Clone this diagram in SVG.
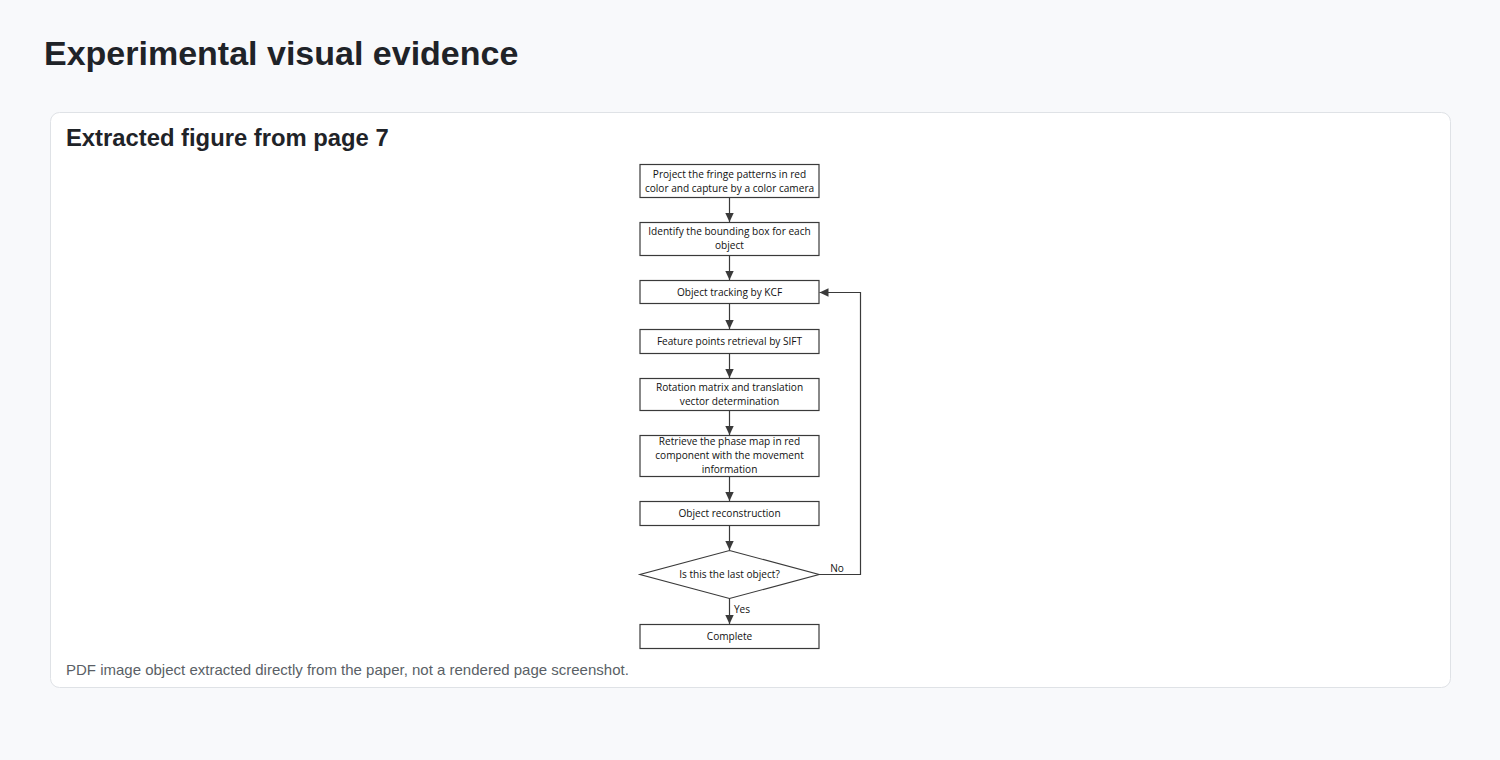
<svg xmlns="http://www.w3.org/2000/svg" width="1500" height="760" viewBox="0 0 1500 760">
<style>
.h1{font-family:"Liberation Sans",Arial,sans-serif;font-weight:bold;font-size:34px;fill:#1f2328}
.h2{font-family:"Liberation Sans",Arial,sans-serif;font-weight:bold;font-size:23.8px;fill:#1f2328}
.cap{font-family:"Liberation Sans",Arial,sans-serif;font-size:15px;fill:#5a5f66}
.box{fill:#fff;stroke:#3a3a3a;stroke-width:1.2}
.t{font-family:"Open Sans","Liberation Sans",sans-serif;font-size:10.1px;fill:#111;text-anchor:middle}
.c{fill:none;stroke:#3a3a3a;stroke-width:1.2}
</style>
<defs>
<marker id="ah" markerWidth="10" markerHeight="10" refX="9" refY="5" orient="auto" markerUnits="userSpaceOnUse">
<path d="M0,0.8 L9,5 L0,9.2 Z" fill="#3a3a3a"/>
</marker>
</defs>
<rect width="1500" height="760" fill="#f8f9fb"/>
<text class="h1" x="44" y="65">Experimental visual evidence</text>
<rect x="50.5" y="112.5" width="1400" height="575" rx="9" fill="#fff" stroke="#dfe2e6"/>
<text class="h2" x="66" y="146">Extracted figure from page 7</text>
<text class="cap" x="66" y="675">PDF image object extracted directly from the paper, not a rendered page screenshot.</text>

<g id="n1"><rect class="box" x="640" y="164.5" width="179" height="33"/><text class="t" x="729.5" y="177.5">Project the fringe patterns in red</text><text class="t" x="729.5" y="191.5">color and capture by a color camera</text></g>
<g id="n2"><rect class="box" x="640" y="222.5" width="179" height="33"/><text class="t" x="729.5" y="235">Identify the bounding box for each</text><text class="t" x="729.5" y="249">object</text></g>
<g id="n3"><rect class="box" x="640" y="280.5" width="179" height="23"/><text class="t" x="729.5" y="295.5">Object tracking by KCF</text></g>
<g id="n4"><rect class="box" x="640" y="329.5" width="179" height="24"/><text class="t" x="729.5" y="344.5">Feature points retrieval by SIFT</text></g>
<g id="n5"><rect class="box" x="640" y="378.5" width="179" height="32"/><text class="t" x="729.5" y="390.5">Rotation matrix and translation</text><text class="t" x="729.5" y="404.5">vector determination</text></g>
<g id="n6"><rect class="box" x="640" y="435.5" width="179" height="41"/><text class="t" x="729.5" y="445">Retrieve the phase map in red</text><text class="t" x="729.5" y="459">component with the movement</text><text class="t" x="729.5" y="473">information</text></g>
<g id="n7"><rect class="box" x="640" y="501.5" width="179" height="24"/><text class="t" x="729.5" y="516.5">Object reconstruction</text></g>
<g id="n8"><polygon class="box" points="729.5,550.5 819,574.5 729.5,598.5 640,574.5"/><text class="t" x="729.5" y="578">Is this the last object?</text></g>
<g id="n9"><rect class="box" x="640" y="624.5" width="179" height="24"/><text class="t" x="729.5" y="639.5">Complete</text></g>

<g id="connectors">
<line class="c" x1="729.5" y1="197.5" x2="729.5" y2="222" marker-end="url(#ah)"/>
<line class="c" x1="729.5" y1="255.5" x2="729.5" y2="280" marker-end="url(#ah)"/>
<line class="c" x1="729.5" y1="303.5" x2="729.5" y2="329" marker-end="url(#ah)"/>
<line class="c" x1="729.5" y1="353.5" x2="729.5" y2="378" marker-end="url(#ah)"/>
<line class="c" x1="729.5" y1="410.5" x2="729.5" y2="435" marker-end="url(#ah)"/>
<line class="c" x1="729.5" y1="476.5" x2="729.5" y2="501" marker-end="url(#ah)"/>
<line class="c" x1="729.5" y1="525.5" x2="729.5" y2="550" marker-end="url(#ah)"/>
<line class="c" x1="729.5" y1="598.5" x2="729.5" y2="624" marker-end="url(#ah)"/>
<polyline class="c" points="819,574.5 860.5,574.5 860.5,292.5 819.5,292.5" marker-end="url(#ah)"/>
<text class="t" x="837" y="572">No</text>
<text class="t" x="742" y="613">Yes</text>
</g>
</svg>
